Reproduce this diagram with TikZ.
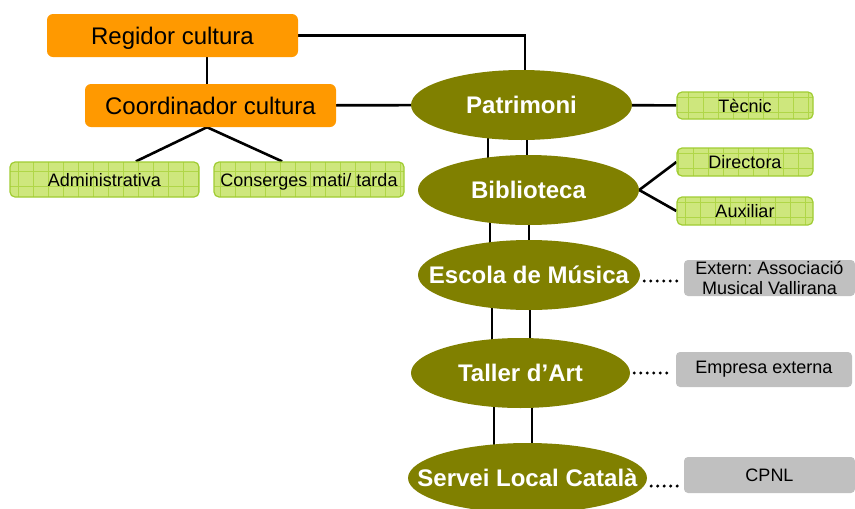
\documentclass[tikz,border=0pt]{standalone}
\usepackage{fontspec}
\setmainfont{Liberation Sans}
\frenchspacing
\usepackage{tikz}
\usetikzlibrary{shapes.geometric}
\usetikzlibrary{backgrounds}

\definecolor{orangefill}{RGB}{255,153,0}
\definecolor{olivefill}{RGB}{128,128,0}
\definecolor{greenfill}{RGB}{206,231,125}
\definecolor{greenline}{RGB}{160,204,50}
\definecolor{greengrid}{RGB}{176,214,72}
\definecolor{grayfill}{RGB}{192,192,192}

% el text no eixampla l'el·lipse
\newcommand{\nomserv}[1]{\makebox[0pt]{#1}}

\tikzset{
    orangebox/.style = {fill = orangefill, rounded corners = 6pt, inner sep = 0pt, text depth = 0pt,
        minimum width = 251pt, minimum height = 43pt, font = \fontsize{24}{28}\selectfont},
    greenbox/.style = {fill = greenfill, draw = greenline, line width = 1.2pt, text depth = 0pt,
        rounded corners = 5pt, inner sep = 0pt, font = \fontsize{18}{20}\selectfont,
        path picture = {\draw [greengrid, line width = 0.8pt]
            (path picture bounding box.south west) grid [step = 15pt]
            (path picture bounding box.north east);}},
    graybox/.style = {fill = grayfill, rounded corners = 4pt, inner sep = 0pt,
        align = center, font = \fontsize{18}{20}\selectfont},
    servei/.style = {ellipse, fill = olivefill, text = white, inner sep = 0pt, text depth = 0pt,
        minimum height = 70pt, font = \bfseries\fontsize{24}{28}\selectfont},
    lin/.style = {line width = 2.6pt},
    punts/.style = {line width = 3.4pt, line cap = round, dash pattern = on 0pt off 6.5pt}
}

\begin{document}
\begin{tikzpicture}[x = 1pt, y = -1pt]
        \useasboundingbox (0, 0) rectangle (855, 509);
        % direccio
        \node [orangebox] (regidor) at (172.5, 35.5) {Regidor cultura};
        \node [orangebox] (coord) at (210.5, 105.5) {Coordinador cultura};
        \node [greenbox, minimum width = 189pt, minimum height = 35pt] (admin) at (104.5, 179.5) {Administrativa};
        \node [greenbox, minimum width = 190pt, minimum height = 35pt] (conserges) at (309, 179.5) {Conserges mati/ tarda};
        % serveis
        \node [servei, minimum width = 221pt] (patrimoni) at (521.5, 105) {\nomserv{Patrimoni}};
        \node [servei, minimum width = 221pt] (biblioteca) at (528.5, 190) {\nomserv{Biblioteca}};
        \node [servei, minimum width = 222pt] (escola) at (529, 275) {\nomserv{Escola de Música}};
        \node [servei, minimum width = 219pt] (taller) at (520.5, 373) {\nomserv{Taller d’Art}};
        \node [servei, minimum width = 239pt] (slc) at (527.5, 478) {\nomserv{Servei Local Català}};
        % personal
        \node [greenbox, minimum width = 136pt, minimum height = 27pt] (tecnic) at (745, 105.5) {Tècnic};
        \node [greenbox, minimum width = 136pt, minimum height = 28pt] (directora) at (745, 162) {Directora};
        \node [greenbox, minimum width = 136pt, minimum height = 28pt] (auxiliar) at (745, 211) {Auxiliar};
        \node [graybox, minimum width = 171pt, minimum height = 36pt] (extern) at (769.5, 278) {Extern: Associació\\Musical Vallirana};
        \node [graybox, minimum width = 176pt, minimum height = 35pt] (empresa) at (764, 369.5) {Empresa externa};
        \node [graybox, minimum width = 171pt, minimum height = 36pt] (cpnl) at (769.5, 475) {CPNL};
        \begin{scope}[on background layer]
            \draw [lin] (regidor.east) -| ([xshift = 3.5pt]patrimoni.center);
            \draw [lin] ([xshift = -3.5pt]coord.north |- regidor.center) -- ([xshift = -3.5pt]coord.center);
            \draw [lin] (coord) -- (patrimoni);
            \draw [lin] ([xshift = -3.5pt]coord.south) -- (admin.30);
            \draw [lin] ([xshift = -3.5pt]coord.south) -- (conserges.146);
            \draw [lin] (patrimoni) -- (tecnic);
            \draw [lin] (biblioteca.east) -- (directora.west);
            \draw [lin] (biblioteca.east) -- (auxiliar.west);
            \draw [lin] ([xshift = -33.5pt]patrimoni.center) -- ([xshift = -33.5pt]patrimoni.center |- biblioteca.center);
            \draw [lin] ([xshift = 5.5pt]patrimoni.center) -- ([xshift = 5.5pt]patrimoni.center |- biblioteca.center);
            \draw [lin] ([xshift = -38.5pt]biblioteca.center) -- ([xshift = -38.5pt]biblioteca.center |- escola.center);
            \draw [lin] ([xshift = 0.5pt]biblioteca.center) -- ([xshift = 0.5pt]biblioteca.center |- escola.center);
            \draw [lin] ([xshift = -37pt]escola.center) -- ([xshift = -37pt]escola.center |- taller.center);
            \draw [lin] ([xshift = 1pt]escola.center) -- ([xshift = 1pt]escola.center |- taller.center);
            \draw [lin] ([xshift = -26.5pt]taller.center) -- ([xshift = -26.5pt]taller.center |- slc.center);
            \draw [lin] ([xshift = 11.5pt]taller.center) -- ([xshift = 11.5pt]taller.center |- slc.center);
        \end{scope}
        % externs
        \draw [punts] ([xshift = 4pt, yshift = -6pt]escola.east) -- ([xshift = -3pt, yshift = -6pt]escola.east -| extern.west);
        \draw [punts] ([xshift = 4pt]taller.east) -- ([xshift = -3pt]taller.east -| empresa.west);
        \draw [punts] ([xshift = 4pt, yshift = -8pt]slc.east) -- ([xshift = -3pt, yshift = -8pt]slc.east -| cpnl.west);
    \end{tikzpicture}
\end{document}
